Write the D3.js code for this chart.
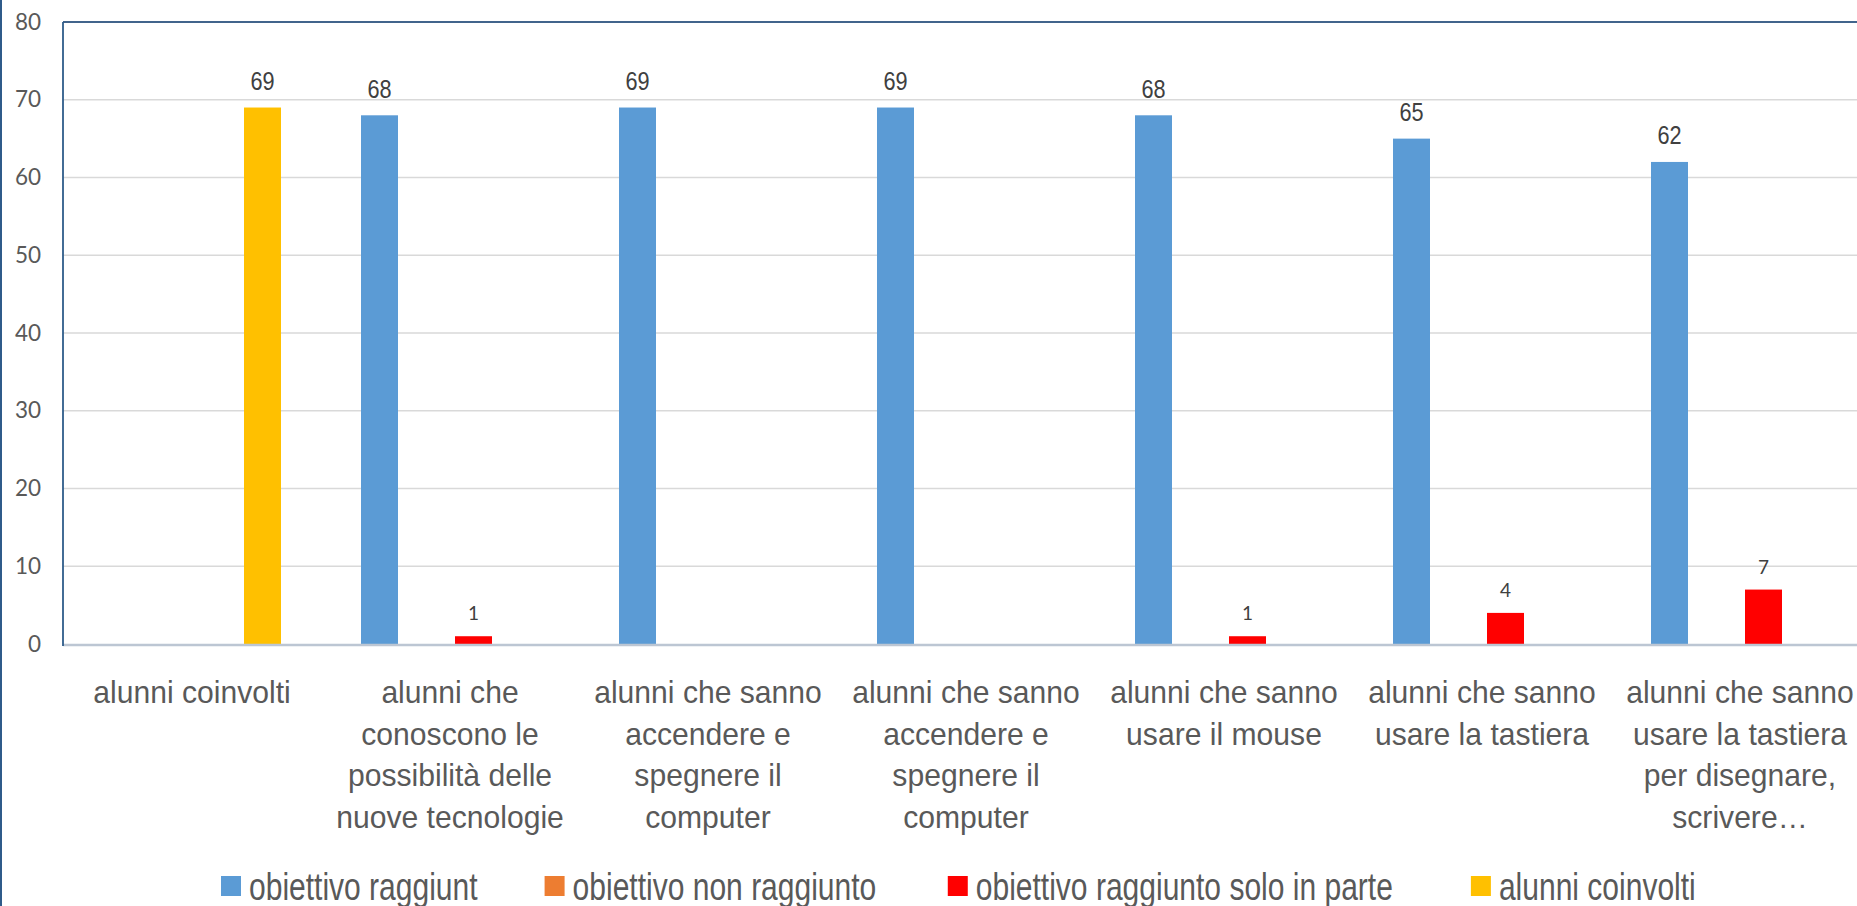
<!DOCTYPE html>
<html>
<head>
<meta charset="utf-8">
<script src="https://cdn.jsdelivr.net/npm/d3@7"></script>
<style>
  html, body { margin: 0; padding: 0; background: #fff; }
  svg { display: block; }
</style>
</head>
<body>
<svg id="chart" width="1857" height="906"></svg>
<script>
// ---------------- DATA ----------------
const categories = [
  "alunni coinvolti",
  "alunni che conoscono le possibilità delle nuove tecnologie",
  "alunni che sanno accendere e spegnere il computer",
  "alunni che sanno accendere e spegnere il computer (2)",
  "alunni che sanno usare il mouse",
  "alunni che sanno usare la tastiera",
  "alunni che sanno usare la tastiera per disegnare, scrivere…"
];
const categoryLines = [
  ["alunni coinvolti"],
  ["alunni che", "conoscono le", "possibilità delle", "nuove tecnologie"],
  ["alunni che sanno", "accendere e", "spegnere il", "computer"],
  ["alunni che sanno", "accendere e", "spegnere il", "computer"],
  ["alunni che sanno", "usare il mouse"],
  ["alunni che sanno", "usare la tastiera"],
  ["alunni che sanno", "usare la tastiera", "per disegnare,", "scrivere…"]
];
const seriesNames = [
  "obiettivo raggiunt",
  "obiettivo non raggiunto",
  "obiettivo raggiunto solo in parte",
  "alunni coinvolti"
];
const seriesColors = ["#5B9BD5", "#ED7D31", "#FF0000", "#FFC000"];
const obiettivoRaggiunt      = [0, 68, 69, 69, 68, 65, 62];
const obiettivoNonRaggiunto  = [0, 0, 0, 0, 0, 0, 0];
const obiettivoSoloInParte   = [0, 1, 0, 0, 1, 4, 7];
const alunniCoinvolti        = [69, 0, 0, 0, 0, 0, 0];
const seriesValues = [obiettivoRaggiunt, obiettivoNonRaggiunto, obiettivoSoloInParte, alunniCoinvolti];
const yTicks = [0, 10, 20, 30, 40, 50, 60, 70, 80];

// ---------------- LAYOUT ----------------
const svg = d3.select("#chart");
const W = 1857, H = 906;
const plotLeft = 63, plotTop = 22, plotBottom = 644;
const bandW = 258;
const plotRight = plotLeft + bandW * categories.length;

svg.append("rect").attr("width", W).attr("height", H).attr("fill", "#fff");

const x0 = d3.scaleBand().domain(categories).range([plotLeft, plotRight]).paddingInner(0).paddingOuter(0);
const x1 = d3.scaleBand().domain(seriesNames).range([0, x0.bandwidth()]).paddingInner(0.2128).paddingOuter(0.851);
const y = d3.scaleLinear().domain([0, 80]).range([plotBottom, plotTop]);

// gridlines
svg.append("g").selectAll("line").data(yTicks.filter(t => t > 0 && t < 80)).join("line")
  .attr("x1", plotLeft).attr("x2", plotRight)
  .attr("y1", d => y(d)).attr("y2", d => y(d))
  .attr("stroke", "#D9D9D9").attr("stroke-width", 1.5);

// top border of plot area
svg.append("line").attr("x1", plotLeft).attr("x2", plotRight)
  .attr("y1", y(80)).attr("y2", y(80)).attr("stroke", "#41648C").attr("stroke-width", 2);

// y axis labels
const yAxis = d3.axisLeft(y).tickValues(yTicks).tickSize(0).tickPadding(22);
const gy = svg.append("g").attr("transform", `translate(${plotLeft},0)`).call(yAxis);
gy.select(".domain").remove();
gy.selectAll("text")
  .attr("font-family", "Lato, 'Open Sans', sans-serif")
  .attr("font-size", 22.5).attr("fill", "#595959");

// bars
const barData = [];
categories.forEach((c, i) => {
  seriesNames.forEach((s, j) => {
    barData.push({cat: c, ser: s, idx: j, value: seriesValues[j][i]});
  });
});
svg.append("g").selectAll("rect").data(barData.filter(d => d.value > 0)).join("rect")
  .attr("x", d => x0(d.cat) + x1(d.ser))
  .attr("y", d => y(d.value))
  .attr("width", x1.bandwidth())
  .attr("height", d => y(0) - y(d.value))
  .attr("fill", d => seriesColors[d.idx]);

// value labels
const lbl = svg.append("g").selectAll("g").data(barData.filter(d => d.value > 0)).join("g")
  .attr("transform", d => {
    const cx = x0(d.cat) + x1(d.ser) + x1.bandwidth() / 2;
    const off = d.idx === 2 ? 16 : 17.5;
    return `translate(${cx},${y(d.value) - off})` + (d.idx === 2 ? "" : " scale(0.85,1)");
  });
lbl.append("text")
  .attr("text-anchor", "middle")
  .attr("font-family", d => d.idx === 2 ? "Lato, 'Open Sans', sans-serif" : "'Liberation Sans', Arial, sans-serif")
  .attr("font-size", d => d.idx === 2 ? 19 : 25.5)
  .attr("fill", "#404040")
  .text(d => d.value);

// axis baseline
svg.append("line").attr("x1", plotLeft).attr("x2", plotRight)
  .attr("y1", y(0) + 1).attr("y2", y(0) + 1).attr("stroke", "#BCC6D3").attr("stroke-width", 2.5);
// left border of plot area
svg.append("line").attr("x1", plotLeft).attr("x2", plotLeft)
  .attr("y1", y(80)).attr("y2", y(0) + 2).attr("stroke", "#2E5C8A").attr("stroke-width", 1.8);

// category labels
const catG = svg.append("g").selectAll("g").data(categories).join("g")
  .attr("transform", d => `translate(${x0(d) + x0.bandwidth() / 2},703)`);
catG.each(function(d, i) {
  const g = d3.select(this);
  categoryLines[i].forEach((line, k) => {
    g.append("g").attr("transform", `translate(0,${k * 41.5}) scale(0.95,1)`)
      .append("text")
      .attr("text-anchor", "middle")
      .attr("font-family", "'Liberation Sans', Arial, sans-serif")
      .attr("font-size", 31.7)
      .attr("fill", "#595959")
      .text(line);
  });
});

// legend
const legend = svg.append("g");
let lx = 221;
const legScale = 0.79;
const legGaps = [67, 71.5, 78];
seriesNames.forEach((s, j) => {
  const g = legend.append("g").attr("transform", `translate(${lx},876)`);
  g.append("rect").attr("width", 20).attr("height", 20).attr("fill", seriesColors[j]);
  const t = g.append("g").attr("transform", `translate(28,23.5) scale(${legScale},1)`)
    .append("text")
    .attr("font-family", "'Liberation Sans', Arial, sans-serif")
    .attr("font-size", 38)
    .attr("fill", "#595959")
    .text(s);
  const w = t.node().getComputedTextLength() * legScale;
  lx = lx + 28 + w + (legGaps[j] || 0);
});

// outer chart frame (left edge visible)
svg.append("line").attr("x1", 1).attr("x2", 1).attr("y1", 0).attr("y2", H)
  .attr("stroke", "#2F5B8A").attr("stroke-width", 2);
</script>
</body>
</html>
